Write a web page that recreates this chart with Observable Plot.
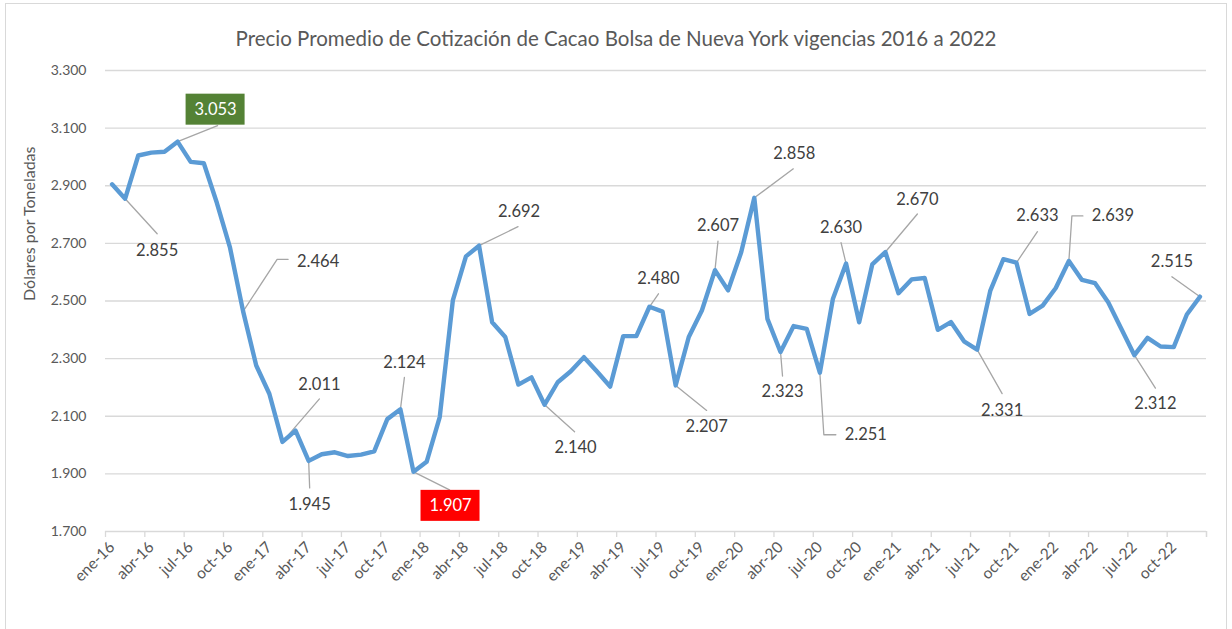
<!DOCTYPE html>
<html>
<head>
<meta charset="utf-8">
<script src="https://cdn.jsdelivr.net/npm/d3@7"></script>
<script src="https://cdn.jsdelivr.net/npm/@observablehq/plot@0.6"></script>
<style>
  html, body { margin: 0; padding: 0; background: #fff; }
  body { position: relative; width: 1232px; height: 629px; overflow: hidden; font-family: Lato, "Noto Sans", sans-serif; }
  #frame { position: absolute; left: 5px; top: 3px; width: 1222px; height: 640px; border: 1px solid #d9d9d9; box-sizing: border-box; pointer-events: none; }
  #title { height: 60px; box-sizing: border-box; padding-top: 26px; text-align: center; font-size: 20.5px; color: #595959; line-height: 24px; }
  #chart svg { display: block; }
</style>
</head>
<body>
<div id="frame"></div>
<div id="title">Precio Promedio de Cotización de Cacao Bolsa de Nueva York vigencias 2016 a 2022</div>
<div id="chart"></div>
<script>
// ---- data ----
const monthNames = ["ene","feb","mar","abr","may","jun","jul","ago","sep","oct","nov","dic"];
const years = ["16","17","18","19","20","21","22"];
const categories = years.flatMap(y => monthNames.map(m => `${m}-${y}`));

const prices = [
  2905, 2855, 3005, 3015, 3018, 3053, 2983, 2978, 2840, 2685, 2464, 2276, // 2016
  2178, 2011, 2050, 1945, 1968, 1975, 1962, 1967, 1978, 2090, 2124, 1907, // 2017
  1942, 2097, 2502, 2655, 2692, 2426, 2375, 2210, 2235, 2140, 2218, 2256, // 2018
  2305, 2255, 2203, 2378, 2378, 2480, 2463, 2207, 2375, 2467, 2607, 2537, // 2019
  2669, 2858, 2438, 2323, 2413, 2403, 2251, 2508, 2630, 2426, 2627, 2670, // 2020
  2527, 2575, 2580, 2400, 2427, 2360, 2331, 2535, 2645, 2633, 2455, 2484, // 2021
  2545, 2639, 2573, 2562, 2496, 2404, 2312, 2372, 2342, 2340, 2453, 2515  // 2022
];

const yTicks = [1700, 1900, 2100, 2300, 2500, 2700, 2900, 3100, 3300];
const labeledMonths = [1, 5, 10, 13, 15, 22, 23, 28, 33, 41, 43, 46, 49, 51, 54, 56, 59, 66, 69, 73, 78, 83];
const maxMonth = 5;   // highlighted (green box)
const minMonth = 23;  // highlighted (red box)

// ---- layout (pixel offsets of labels relative to their point) ----
const labelLayout = {
  1:  {t: [32, 52],  l: [[32, 35]]},
  5:  {t: [38, -32], l: [[40, -16]]},
  10: {t: [75, -50], l: [[34, -52], [45, -52]]},
  13: {t: [37, -57], l: [[37, -43]]},
  15: {t: [1, 44],   l: [[1, 27]]},
  22: {t: [4, -47],  l: [[4, -32]]},
  23: {t: [37, 34],  l: [[36, 18]]},
  28: {t: [40, -34], l: [[39, -19]]},
  33: {t: [31, 43],  l: [[30, 27]]},
  41: {t: [9, -28],  l: [[9, -13]]},
  43: {t: [31, 41],  l: [[31, 25]]},
  46: {t: [3, -44],  l: [[3, -29]]},
  49: {t: [40, -44], l: [[39, -29]]},
  51: {t: [2, 40],   l: [[2, 24]]},
  54: {t: [46, 62],  l: [[4, 62], [16, 62]]},
  56: {t: [-5, -36], l: [[-5, -21]]},
  59: {t: [32, -52], l: [[32, -38]]},
  66: {t: [25, 61],  l: [[25, 44]]},
  69: {t: [21, -47], l: [[21, -31]]},
  73: {t: [44, -45], l: [[3, -45], [14, -45]]},
  78: {t: [21, 49],  l: [[21, 33]]},
  83: {t: [-28, -35],l: [[-28, -20]]}
};

const W = 1232, H = 569, mT = 10, mB = 98, mL = 105, mR = 26;
const n = prices.length;
const kx = (W - mL - mR) / n;          // px per month
const ky = (H - mT - mB) / (3300 - 1700); // px per unit

const fmt = v => d3.format(",")(v).replace(/,/g, ".");
const idx = d3.range(n);

const labels = labeledMonths.map(i => ({i, v: prices[i], t: labelLayout[i].t, box: i === maxMonth ? "#548235" : i === minMonth ? "#FF0000" : null}));
const leaders = labeledMonths.flatMap(i => [
  {z: i, x: i, y: prices[i]},
  ...labelLayout[i].l.map(([ox, oy]) => ({z: i, x: i + ox / kx, y: prices[i] - oy / ky}))
]);
const boxes = labels.filter(d => d.box);

const tickMarks = d3.range(-0.5, n, 3).concat([n - 0.5]);
const tickLabels = d3.range(0, n, 3);

const chart = Plot.plot({
  width: W, height: H,
  marginTop: mT, marginBottom: mB, marginLeft: mL, marginRight: mR,
  style: {fontFamily: "Lato, 'Noto Sans', sans-serif", background: "white"},
  x: {type: "linear", domain: [-0.5, n - 0.5]},
  y: {domain: [1700, 3300]},
  marks: [
    Plot.gridY(yTicks.slice(1), {stroke: "#d9d9d9", strokeOpacity: 1, strokeWidth: 1.3}),
    Plot.ruleY([1700], {stroke: "#d9d9d9", strokeWidth: 1.3}),
    Plot.ruleX(tickMarks, {x: d => d, y1: 1700, y2: 1700 - 6 / ky, stroke: "#d9d9d9", strokeWidth: 1.3}),
    Plot.axisY(yTicks, {tickSize: 0, tickPadding: 19, tickFormat: fmt, fontSize: 14, fill: "#595959", label: null}),
    Plot.axisX(tickLabels, {tickSize: 0, tickPadding: 13, tickRotate: -45, tickFormat: i => categories[i], fontSize: 15.5, fill: "#595959", label: null}),
    Plot.text(["Dólares por Toneladas"], {frameAnchor: "left", dx: -76, rotate: -90, fontSize: 16, fill: "#595959"}),
    Plot.line(leaders, {x: "x", y: "y", z: "z", stroke: "#a6a6a6", strokeWidth: 1.3}),
    Plot.line(idx, {x: i => i, y: i => prices[i], stroke: "#5b9bd5", strokeWidth: 4.4, strokeLinejoin: "round", strokeLinecap: "round"}),
    Plot.rect(boxes, {
      x1: d => d.i + (d.t[0] - 29.5) / kx, x2: d => d.i + (d.t[0] + 29.5) / kx,
      y1: d => d.v - (d.t[1] - 15.5) / ky, y2: d => d.v - (d.t[1] + 15.5) / ky,
      fill: d => d.box
    }),
    Plot.text(labels, {
      x: d => d.i + d.t[0] / kx, y: d => d.v - d.t[1] / ky,
      text: d => fmt(d.v), fontSize: 16.5,
      fill: d => d.box ? "#ffffff" : "#404040"
    })
  ]
});
document.getElementById("chart").appendChild(chart);
</script>
</body>
</html>
